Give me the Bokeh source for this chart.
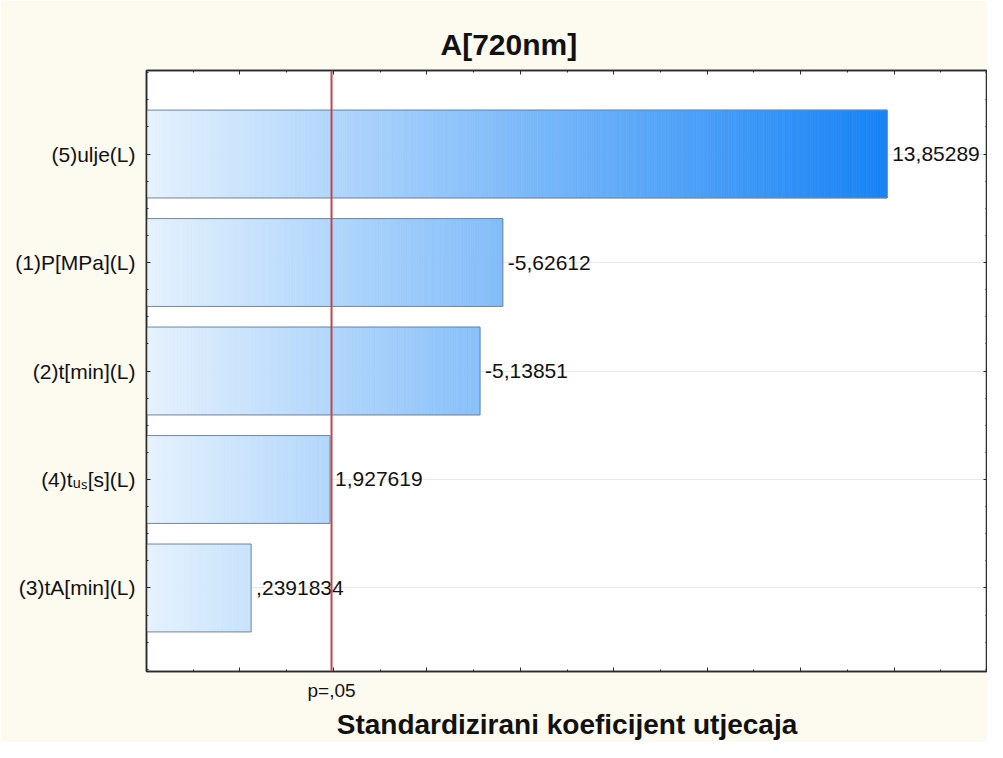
import math
from bokeh.plotting import figure
from bokeh.models import Range1d, LinearAxis, FixedTicker, Span
from bokeh.embed import file_html
from bokeh.resources import INLINE
from bokeh.core.properties import value

# ---------------- data ----------------
title_text = "A[720nm]"
x_label = "Standardizirani koeficijent utjecaja"
categories = ["(5)ulje(L)", "(1)P[MPa](L)", "(2)t[min](L)", "(4)t\u1d64\u209b[s](L)", "(3)tA[min](L)"]
effects = [13.85289, -5.62612, -5.13851, 1.927619, 0.2391834]
effect_labels = ["13,85289", "-5,62612", "-5,13851", "1,927619", ",2391834"]
p_crit = 1.96
p_label = "p=,05"
x_min, x_max = -2, 16
x_major_step = 2

# ---------------- layout / style ----------------
FONT = "Liberation Sans"
W, H = 987, 742
ML, MR, MT, MB = 146, 0, 70, 66
pad = 0.77
bar_h = 0.81
INK = "#2a2a2a"
TXT = "#111111"

n = len(categories)
ypos = list(range(n))
mags = [abs(e) for e in effects]
vmax = max(mags)

p = figure(width=W, height=H, output_backend="svg", toolbar_location=None,
           x_range=Range1d(x_min, x_max), y_range=Range1d(n - 1 + pad, -pad),
           min_border_left=ML, min_border_right=MR, min_border_top=MT, min_border_bottom=MB)
p.background_fill_color = "white"
p.border_fill_color = "#fdfaf0"
p.outline_line_color = INK
p.outline_line_width = 1.5

x_major = list(range(x_min, x_max + 1, x_major_step))
x_minor = [v + x_major_step / 2 for v in x_major[:-1]]
y_minor = [i + k * 0.25 for i in range(-1, n) for k in (1, 2, 3)]


def style_axis(ax, hide_labels=True):
    ax.axis_line_color = INK
    ax.axis_line_width = 1.5
    ax.major_tick_in = 4
    ax.major_tick_out = 0
    ax.minor_tick_in = 2
    ax.minor_tick_out = 0
    ax.major_tick_line_color = INK
    ax.minor_tick_line_color = INK
    if hide_labels:
        ax.major_label_text_color = None
        ax.major_label_text_font_size = "0px"
        ax.major_label_standoff = 0


# bottom & top axes (ticks only)
p.xaxis.ticker = FixedTicker(ticks=x_major, minor_ticks=x_minor)
style_axis(p.xaxis[0])
top_ax = LinearAxis(ticker=FixedTicker(ticks=x_major, minor_ticks=x_minor))
style_axis(top_ax)
p.add_layout(top_ax, "above")

# second bottom axis: the p=,05 marker and the axis title
p_ax = LinearAxis(ticker=FixedTicker(ticks=[p_crit], minor_ticks=[]))
p_ax.axis_line_color = None
p_ax.major_tick_line_color = None
p_ax.major_tick_in = 0
p_ax.major_tick_out = 0
p_ax.major_label_overrides = {p_crit: p_label}
p_ax.major_label_standoff = 8
p_ax.major_label_text_font = FONT
p_ax.major_label_text_font_size = "19px"
p_ax.major_label_text_color = TXT
p_ax.axis_label = x_label
p_ax.axis_label_standoff = 5
p_ax.axis_label_text_font = FONT
p_ax.axis_label_text_font_size = "28px"
p_ax.axis_label_text_font_style = "bold"
p_ax.axis_label_text_color = TXT
p.add_layout(p_ax, "below")

# left axis with category labels, right axis ticks only
p.yaxis.ticker = FixedTicker(ticks=ypos, minor_ticks=y_minor)
style_axis(p.yaxis[0], hide_labels=False)
p.yaxis.major_label_overrides = {i: c for i, c in zip(ypos, categories)}
p.yaxis.major_label_text_font = FONT
p.yaxis.major_label_text_font_size = "21px"
p.yaxis.major_label_text_color = TXT
p.yaxis.major_label_standoff = 11
right_ax = LinearAxis(ticker=FixedTicker(ticks=ypos, minor_ticks=y_minor))
style_axis(right_ax)
p.add_layout(right_ax, "right")

p.xgrid.visible = False
p.ygrid.ticker = FixedTicker(ticks=ypos)
p.ygrid.grid_line_color = "#e9e9e9"
p.ygrid.grid_line_width = 1

# title
p.title.text = title_text
p.title.align = "left"
p.title.offset = 294
p.title.text_font = FONT
p.title.text_font_size = "30px"
p.title.text_font_style = "bold"
p.title.text_color = TXT
p.title.standoff = 20

# ---------------- gradient bars ----------------
c0 = (230, 242, 253)
c1 = (22, 131, 245)


def grad(x):
    t = (x - x_min) / (vmax - x_min)
    t = min(max(t, 0.0), 1.0)
    return "#%02x%02x%02x" % tuple(int(round(a + (b - a) * t)) for a, b in zip(c0, c1))


step = 0.05
L, R, T, B, C = [], [], [], [], []
for y, m in zip(ypos, mags):
    k = max(1, math.ceil((m - x_min) / step))
    edges = [x_min + (m - x_min) * j / k for j in range(k + 1)]
    for a, b in zip(edges[:-1], edges[1:]):
        L.append(a)
        R.append(b)
        T.append(y - bar_h / 2)
        B.append(y + bar_h / 2)
        C.append(grad((a + b) / 2))
p.quad(left=L, right=R, top=T, bottom=B, fill_color=C, line_color=C, line_width=0.8)
p.quad(left=[x_min] * n, right=mags, top=[y - bar_h / 2 for y in ypos],
       bottom=[y + bar_h / 2 for y in ypos], fill_color=None, line_color="#74879d", line_width=1)

p.text(x=mags, y=ypos, text=effect_labels, x_offset=5, text_align="left", text_baseline="middle",
       text_font=value(FONT), text_font_size="21px", text_color=TXT)

p.add_layout(Span(location=p_crit, dimension="height", line_color="#b94a4e", line_width=2))

open("out.html", "w").write(file_html(p, INLINE))
